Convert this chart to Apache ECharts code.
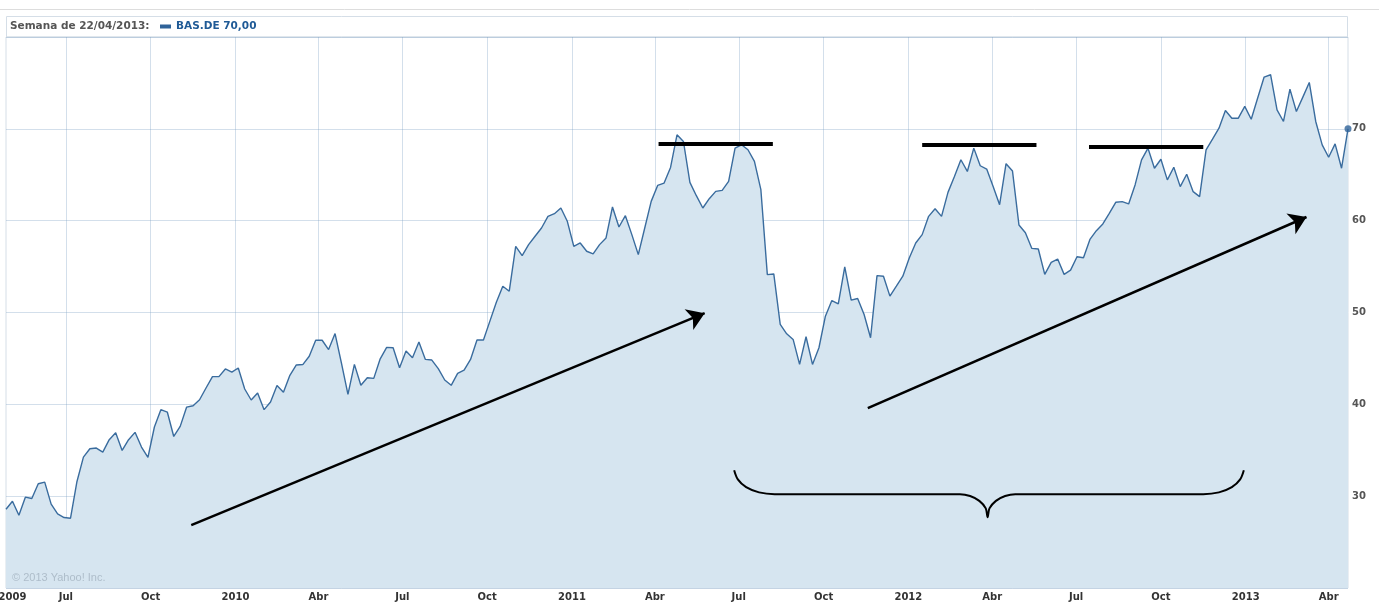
<!DOCTYPE html>
<html>
<head>
<meta charset="utf-8">
<title>BAS.DE</title>
<script src="https://cdn.jsdelivr.net/npm/echarts@6.0.0/dist/echarts.min.js"></script>
<style>
  html, body { margin: 0; padding: 0; background: #fff; }
  #main { width: 1379px; height: 603px; }
</style>
</head>
<body>
<div id="main"></div>
<script>
// weekly closes, one value per week starting on firstWeek
var firstWeek = '2009-04-27';
var closesA = [28.58, 29.45, 27.93, 29.89, 29.75, 31.35, 31.53, 29.13, 28.07, 27.67, 27.6, 31.6, 34.25, 35.16, 35.24, 34.8, 36.15, 36.9, 34.98, 36.15, 36.95, 35.35, 34.22, 37.53, 39.42, 39.16, 36.5, 37.6, 39.7, 39.85, 40.5, 41.78, 43.02, 43.02, 43.85, 43.5, 43.96, 41.67, 40.47, 41.24, 39.42, 40.25, 42.04, 41.31, 43.16, 44.29, 44.33, 45.24, 46.98, 46.98, 45.96, 47.71];
var closesB = [44.45, 41.09, 44.35, 42.07, 42.9, 42.83, 44.96, 46.2, 46.16, 43.99, 45.8, 45.07, 46.78, 44.89, 44.82, 43.88, 42.65, 42.07, 43.37, 43.73, 44.89, 47.0, 47.0, 49.06, 51.12, 52.86, 52.32, 57.21, 56.2, 57.39, 58.3, 59.2, 60.47, 60.76, 61.38, 59.93, 57.21, 57.57, 56.67, 56.38, 57.39, 58.12, 61.49, 59.31, 60.54, 58.48, 56.3, 59.2, 62.1, 63.84, 64.09, 65.8, 69.35];
var closesC = [68.62, 64.17, 62.72, 61.38, 62.39, 63.19, 63.3, 64.28, 67.9, 68.26, 67.72, 66.45, 63.37, 54.13, 54.2, 48.7, 47.68, 47.07, 44.35, 47.36, 44.35, 46.16, 49.6, 51.3, 50.94, 54.96, 51.34, 51.52, 49.78, 47.25, 54.02, 53.95, 51.78, 52.86, 53.95, 55.94, 57.57, 58.48, 60.47, 61.3, 60.47, 63.08, 64.82, 66.63, 65.36, 67.9, 65.98, 65.62, 63.73, 61.74, 66.2, 65.4];
var closesD = [59.53, 58.69, 56.98, 56.91, 54.15, 55.45, 55.82, 54.15, 54.62, 56.07, 55.96, 57.96, 58.91, 59.64, 60.8, 62.0, 62.07, 61.82, 63.89, 66.62, 67.89, 65.71, 66.69, 64.44, 65.82, 63.71, 65.05, 63.16, 62.62, 67.71, 68.87, 70.07, 72.0, 71.16, 71.16, 72.44, 71.05, 73.35, 75.64, 75.89, 72.07, 70.8, 74.33, 71.89, 73.45, 75.05, 70.8, 68.25, 66.91, 68.36, 65.71, 70.0];

var tickDates = ['2009-07-01', '2009-10-01', '2010-01-01', '2010-04-01', '2010-07-01', '2010-10-01', '2011-01-01', '2011-04-01', '2011-07-01', '2011-10-01', '2012-01-01', '2012-04-01', '2012-07-01', '2012-10-01', '2013-01-01', '2013-04-01'];
var tickLabels = ['Jul', 'Oct', '2010', 'Abr', 'Jul', 'Oct', '2011', 'Abr', 'Jul', 'Oct', '2012', 'Abr', 'Jul', 'Oct', '2013', 'Abr'];
var firstLabelDate = '2009-05-04';
var firstLabel = '2009';

// hand drawn marks on the picture, in date / price terms
var trendArrows = [
  [['2009-11-14', 26.84], ['2011-05-25', 49.93]],
  [['2011-11-18', 39.59], ['2013-03-08', 60.4]]
];
var topLines = [
  [['2011-04-05', 68.34], ['2011-08-07', 68.34]],
  [['2012-01-16', 68.3], ['2012-05-19', 68.3]],
  [['2012-07-15', 68.05], ['2012-11-16', 68.05]]
];
var bracePoints = [
  ['2011-06-26', 32.83], ['2011-06-30', 31.83], ['2011-07-09', 30.98], ['2011-07-23', 30.41], ['2011-08-09', 30.22],
  ['2012-02-26', 30.22], ['2012-03-08', 30.02], ['2012-03-18', 29.49], ['2012-03-25', 28.67], ['2012-03-27', 27.71],
  ['2012-03-29', 28.67], ['2012-04-05', 29.49], ['2012-04-15', 30.02], ['2012-04-26', 30.22],
  ['2012-11-16', 30.22], ['2012-12-03', 30.41], ['2012-12-17', 30.98], ['2012-12-26', 31.83], ['2012-12-30', 32.83]
];

function toTime(s) {
  var p = s.split('-');
  return new Date(+p[0], +p[1] - 1, +p[2]).getTime();
}

var closes = closesA.concat(closesB, closesC, closesD);
var start = firstWeek.split('-');
var seriesData = closes.map(function (v, i) {
  return [new Date(+start[0], +start[1] - 1, +start[2] + 7 * i).getTime(), v];
});
var last = seriesData[seriesData.length - 1];

var labelTimes = [toTime(firstLabelDate)].concat(tickDates.map(toTime));
var labelTexts = [firstLabel].concat(tickLabels);

var font = 'DejaVu Sans';
var gridColor = 'rgba(110,150,190,0.3)';

var chartDom = document.getElementById('main');
var myChart = echarts.init(chartDom);

var markLines = topLines.map(function (l) {
  return [
    { coord: [toTime(l[0][0]), l[0][1]], symbol: 'none' },
    { coord: [toTime(l[1][0]), l[1][1]], symbol: 'none', lineStyle: { width: 4 } }
  ];
}).concat(trendArrows.map(function (l) {
  return [
    { coord: [toTime(l[0][0]), l[0][1]], symbol: 'none' },
    { coord: [toTime(l[1][0]), l[1][1]], symbol: 'arrow', symbolSize: 17, lineStyle: { width: 2.5 } }
  ];
}));

var option = {
  animation: false,
  title: {
    text: 'Semana de 22/04/2013:',
    left: 10,
    top: 21,
    padding: 0,
    textStyle: { color: '#555', fontWeight: 'bold', fontSize: 10.5, fontFamily: font }
  },
  legend: {
    data: ['BAS.DE'],
    left: 160,
    top: 21,
    padding: 0,
    icon: 'rect',
    itemWidth: 11,
    itemHeight: 4,
    itemGap: 5,
    selectedMode: false,
    formatter: function (name) {
      return name + ' ' + last[1].toFixed(2).replace('.', ',');
    },
    textStyle: { color: '#1f5a96', fontWeight: 'bold', fontSize: 10.5, fontFamily: font }
  },
  grid: {
    left: 6,
    right: 31,
    top: 37,
    bottom: 15,
    outerBoundsMode: 'none',
    show: true,
    borderColor: '#d5dee7',
    borderWidth: 1
  },
  graphic: [
    { type: 'line', shape: { x1: 0, y1: 9.5, x2: 1379, y2: 9.5 }, style: { stroke: '#dddddd', lineWidth: 1 } },
    { type: 'rect', shape: { x: 6.5, y: 16.5, width: 1341, height: 20.5 }, style: { fill: 'none', stroke: '#d5dee7', lineWidth: 1 } },
    { type: 'text', left: 12, top: 572, z: 100, style: { text: '\u00a9 2013 Yahoo! Inc.', fill: '#aebdca', font: '11px "Liberation Sans"' } }
  ],
  xAxis: {
    type: 'value',
    min: seriesData[0][0],
    max: last[0],
    z: 3,
    axisLine: { show: false },
    axisTick: { show: false, customValues: tickDates.map(toTime) },
    splitLine: { show: true, lineStyle: { color: gridColor, width: 1 } },
    axisLabel: {
      customValues: labelTimes,
      margin: 4,
      color: '#333',
      fontWeight: 'bold',
      fontSize: 10,
      fontFamily: font,
      formatter: function (v) {
        for (var k = 0; k < labelTimes.length; k++) {
          if (Math.abs(labelTimes[k] - v) < 43200000) return labelTexts[k];
        }
        return '';
      }
    }
  },
  yAxis: {
    type: 'value',
    position: 'right',
    min: 20,
    max: 80,
    interval: 10,
    z: 3,
    axisLine: { show: false },
    axisTick: { show: false },
    splitLine: { show: true, lineStyle: { color: gridColor, width: 1 } },
    axisLabel: {
      showMinLabel: false,
      showMaxLabel: false,
      margin: 4,
      color: '#555',
      fontWeight: 'bold',
      fontSize: 10,
      fontFamily: font
    }
  },
  series: [
    {
      name: 'BAS.DE',
      type: 'line',
      data: seriesData,
      showSymbol: false,
      color: '#2f6399',
      lineStyle: { color: '#3a6c9e', width: 1.4 },
      areaStyle: { color: '#d6e5f0', opacity: 1 },
      emphasis: { disabled: true }
    },
    {
      type: 'scatter',
      data: [last],
      symbolSize: 7,
      itemStyle: { color: '#2f6399' },
      clip: false,
      z: 4,
      silent: true
    },
    {
      type: 'line',
      data: bracePoints.map(function (p) { return [toTime(p[0]), p[1]]; }),
      smooth: 0.3,
      showSymbol: false,
      silent: true,
      z: 5,
      lineStyle: { color: '#000', width: 2 },
      markLine: {
        silent: true,
        symbol: ['none', 'none'],
        label: { show: false },
        lineStyle: { color: '#000', type: 'solid', width: 2.5 },
        emphasis: { disabled: true },
        data: markLines
      }
    }
  ]
};

option && myChart.setOption(option);
</script>
</body>
</html>
